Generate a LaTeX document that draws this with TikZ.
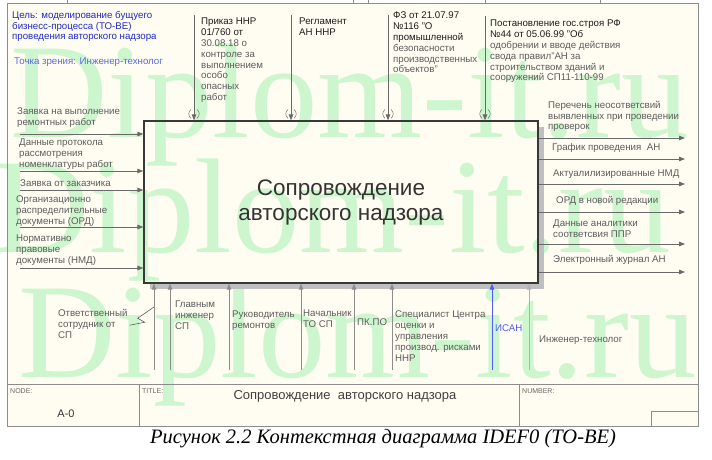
\documentclass[tikz,border=0pt]{standalone}
\usepackage{fontspec}
\setmainfont{Liberation Sans}
\newfontfamily\capfont{Liberation Serif}
\usetikzlibrary{positioning}
\usetikzlibrary{calc}
\usetikzlibrary{arrows.meta}
\definecolor{cream}{RGB}{255,253,242}
\definecolor{wmgreen}{RGB}{206,246,206}
\definecolor{ltxt}{RGB}{92,92,92}
\definecolor{dtxt}{RGB}{28,28,28}
\definecolor{arrgray}{RGB}{105,105,105}
\definecolor{mechgray}{RGB}{140,140,140}
\definecolor{framegray}{RGB}{140,140,140}
\definecolor{goalblue}{RGB}{30,40,200}
\definecolor{viewblue}{RGB}{90,105,230}
\definecolor{isanblue}{RGB}{80,90,245}
\tikzset{fnbox/.style={rectangle,draw=black!78,line width=1.2pt,inner sep=0pt,
align=center,text=black!80,font=\fontsize{22.5}{25}\selectfont},
lbl/.style={anchor=north west,align=left,inner sep=0pt,text=ltxt,
font=\fontsize{9.7}{10.8}\selectfont,execute at begin node=\strut},
flow/.style={draw=arrgray,line width=0.8pt,->},
mech/.style={flow,draw=mechgray},
tunnel/.style={draw=arrgray,line width=0.5pt},
shadowhatch/.style={fill=black!25},
frame/.style={draw=framegray,line width=0.8pt},
cell/.style={anchor=north west,inner sep=0pt,text=black!60,font=\fontsize{7}{8}\selectfont},
wmark/.style={anchor=base west,inner sep=0pt,text=wmgreen,font=\capfont\fontsize{135}{135}\selectfont},
>={Triangle[length=6pt,width=4.5pt]}}
\newcommand{\tunnelmark}[1]{
\draw [tunnel] ($(#1)+(-3,-11)$) .. controls ($(#1)+(-6,-8)$) and ($(#1)+(-6,-5)$) .. ($(#1)+(-3,-2)$);
\draw [tunnel] ($(#1)+(3,-11)$) .. controls ($(#1)+(6,-8)$) and ($(#1)+(6,-5)$) .. ($(#1)+(3,-2)$);
}

\begin{document}
\begin{tikzpicture}[x=1pt,y=-1pt]
    \useasboundingbox (0,0) rectangle (712,460);
    \fill [cream] (7,3) rectangle (698,426);

    \begin{scope}
    \clip (0,0) rectangle (712,460);
    \node (wm1) [wmark] at (10,137) {Diplom-it.ru};
    \node (wm2) [wmark] at (-8,252) {Diplom-it.ru};
    \node (wm3) [wmark] at (18,377) {Diplom-it.ru};
    \end{scope}

    \draw [frame] (7,3) rectangle (698,426);
    \foreach \tx in {67,353,368,485,600}
        \draw [frame] (\tx,0) -- (\tx,3);
    \draw [frame] (7,384) -- (698,384);
    \draw [frame] (139,384) -- (139,426);
    \draw [frame] (519,384) -- (519,426);
    \draw [frame] (651,411) rectangle (698,426);

    \node (goal) [lbl,text=goalblue] at (12,11) {Цель: моделирование бущуего\\бизнесс-процесса (ТО-ВЕ)\\проведения авторского надзора};
    \node (view) [lbl,text=viewblue] at (14,57) {Точка зрения: Инженер-технолог};

    \fill [shadowhatch] (544,127) rectangle (538,289);
    \fill [shadowhatch] (150,283) rectangle (544,289);
    \node (box) [fnbox,minimum width=394pt,minimum height=162pt] at (341,202) {Сопровождение\\авторского надзора};

    \coordinate (c1) at (194,15);
    \coordinate (c2) at (291,15);
    \coordinate (c3) at (388,15);
    \coordinate (c4) at (485,16);
    \coordinate (c1e) at (c1 |- box.north);
    \coordinate (c2e) at (c2 |- box.north);
    \coordinate (c3e) at (c3 |- box.north);
    \coordinate (c4e) at (c4 |- box.north);
    \draw [flow] (c1) -- (c1e);
    \draw [flow] (c2) -- (c2e);
    \draw [flow] (c3) -- (c3e);
    \draw [flow] (c4) -- (c4e);
    \tunnelmark{c1e}
    \tunnelmark{c2e}
    \tunnelmark{c3e}
    \tunnelmark{c4e}

    \node (c1lbl) [lbl] at (201,18) {\textcolor{dtxt}{Приказ ННР}\\\textcolor{dtxt}{01/760 от}\\30.08.18 о\\контроле за\\выполнением\\особо\\опасных\\работ};
    \node (c2lbl) [lbl] at (299,18) {\textcolor{dtxt}{Регламент}\\\textcolor{dtxt}{АН ННР}};
    \node (c3lbl) [lbl] at (393,12) {\textcolor{dtxt}{ФЗ от 21.07.97}\\\textcolor{dtxt}{№116 "О}\\\textcolor{dtxt}{промышленной}\\безопасности\\производственных\\объектов"};
    \node (c4lbl) [lbl] at (490,20) {\textcolor{dtxt}{Постановление гос.строя РФ}\\\textcolor{dtxt}{№44 от 05.06.99 "Об}\\одобрении и вводе действия\\свода правил"АН за\\строительством зданий и\\сооружений СП11-110-99};

    \coordinate (i1) at (20,134);
    \coordinate (i2) at (20,171);
    \coordinate (i3) at (20,190);
    \coordinate (i4) at (20,227);
    \coordinate (i5) at (20,268);
    \draw [flow] (i1) -- (i1 -| box.west);
    \draw [flow] (i2) -- (i2 -| box.west);
    \draw [flow] (i3) -- (i3 -| box.west);
    \draw [flow] (i4) -- (i4 -| box.west);
    \draw [flow] (i5) -- (i5 -| box.west);
    \node (i1lbl) [lbl] at (17,108) {Заявка на выполнение\\ремонтных работ};
    \node (i2lbl) [lbl] at (19,139) {Данные протокола\\рассмотрения\\номенклатуры работ};
    \node (i3lbl) [lbl] at (20,179) {Заявка от заказчика};
    \node (i4lbl) [lbl] at (16,196) {Организационно\\распределительные\\документы (ОРД)};
    \node (i5lbl) [lbl] at (16,235) {Нормативно\\правовые\\документы (НМД)};

    \coordinate (o1) at (685,138);
    \coordinate (o2) at (685,159);
    \coordinate (o3) at (685,184);
    \coordinate (o4) at (685,212);
    \coordinate (o5) at (685,244);
    \coordinate (o6) at (685,272);
    \draw [flow] (o1 -| box.east) -- (o1);
    \draw [flow] (o2 -| box.east) -- (o2);
    \draw [flow] (o3 -| box.east) -- (o3);
    \draw [flow] (o4 -| box.east) -- (o4);
    \draw [flow] (o5 -| box.east) -- (o5);
    \draw [flow] (o6 -| box.east) -- (o6);
    \node (o1lbl) [lbl] at (548,101) {Перечень неосответсвий\\выявленных при проведении\\проверок};
    \node (o2lbl) [lbl] at (552,143) {График проведения~ АН};
    \node (o3lbl) [lbl] at (553,169) {Актуалилизированные НМД};
    \node (o4lbl) [lbl] at (556,196) {ОРД в новой редакции};
    \node (o5lbl) [lbl] at (553,220) {Данные аналитики\\соответсвия ППР};
    \node (o6lbl) [lbl] at (553,255) {Электронный журнал АН};

    \coordinate (m1) at (154,370);
    \coordinate (m2) at (170,370);
    \coordinate (m3) at (229,370);
    \coordinate (m4) at (301,370);
    \coordinate (m5) at (354,370);
    \coordinate (m6) at (392,370);
    \coordinate (m7) at (492,370);
    \coordinate (m8) at (529,370);
    \draw [mech] (m1) -- (m1 |- box.south);
    \draw [mech] (m2) -- (m2 |- box.south);
    \draw [mech] (m3) -- (m3 |- box.south);
    \draw [mech] (m4) -- (m4 |- box.south);
    \draw [mech] (m5) -- (m5 |- box.south);
    \draw [mech] (m6) -- (m6 |- box.south);
    \draw [mech,draw=isanblue] (m7) -- (m7 |- box.south);
    \draw [mech,draw=black!30] (m8) -- (m8 |- box.south);
    \node (m1lbl) [lbl] at (58,309) {Ответственный\\сотрудник от\\СП};
    \node (m2lbl) [lbl] at (175,301) {Главным\\инженер\\СП};
    \node (m3lbl) [lbl] at (232,311) {Руководитель\\ремонтов};
    \node (m4lbl) [lbl] at (303,310) {Начальник\\ТО СП};
    \node (m5lbl) [lbl] at (357,318) {ПК.ПО};
    \node (m6lbl) [lbl] at (395,311) {Специалист Центра\\оценки и\\управления\\производ. рисками\\ННР};
    \node (m7lbl) [lbl,text=isanblue] at (495,324) {ИСАН};
    \node (m8lbl) [lbl] at (539,335) {Инженер-технолог};
    \coordinate (m1k) at (154,307);
    \draw [draw=ltxt,line width=0.6pt] ($(m1lbl.east)+(2,0)$) -- ++(15,-3) -- ++(-7,-4) -- (m1k);

    \node (nodecell) [cell] at (10,388) {NODE:};
    \node (nodenum) [font=\fontsize{11}{13}\selectfont,text=black!80] at (66,414) {A-0};
    \node (titlecell) [cell] at (142,388) {TITLE:};
    \node (titletext) [font=\fontsize{13}{15}\selectfont,text=black!75] at (345,396) {Сопровождение\ \ авторского надзора};
    \node (numcell) [cell] at (522,388) {NUMBER:};

    \node (caption) [font=\capfont\itshape\fontsize{20.5}{23}\selectfont] at (383,439) {Рисунок 2.2 Контекстная диаграмма IDEF0 (TO-BE)};
\end{tikzpicture}
\end{document}
